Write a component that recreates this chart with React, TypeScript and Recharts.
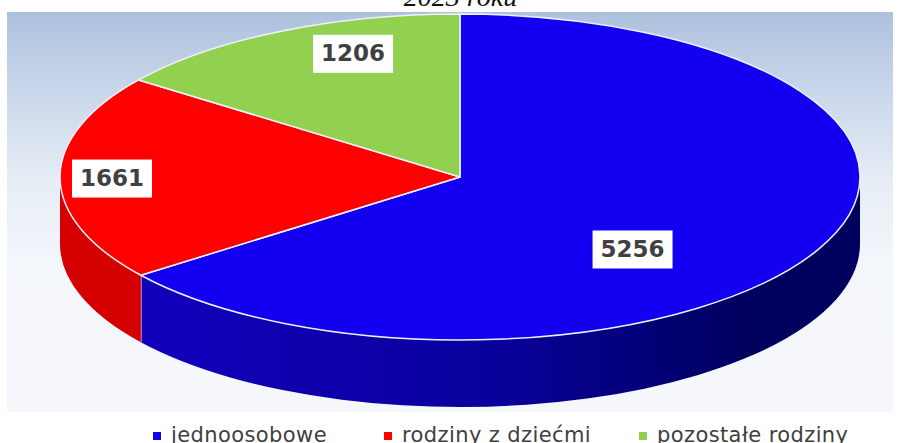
import { PieChart, Pie, Legend } from 'recharts';

const categories = ['jednoosobowe', 'rodziny z dziećmi', 'pozostałe rodziny'];
const householdValues = [5256, 1661, 1206];
const topColors = ['#1300f0', '#ff0000', '#92d050'];
const wallStops = [
  ['#1200bc', '#09009a', '#00005e'],
  ['#d50000', '#d50000', '#d50000'],
  ['#6f9e3d', '#6f9e3d', '#6f9e3d'],
];
// przesunięcia etykiet względem punktu na 3/4 promienia
const labelNudges = [
  [-96, 18],
  [-48, 1],
  [28, -14],
];
const legendItemWidths = [231, 255, 230];

const rows = categories.map((name, i) => ({
  name,
  value: householdValues[i],
  fill: topColors[i],
  wall: wallStops[i],
}));

const SQUASH = 163 / 400; // spłaszczenie elipsy
const DEPTH = 67; // wysokość ściany

const point = (cx: number, cy: number, r: number, deg: number) => {
  const a = (deg * Math.PI) / 180;
  return [cx + r * Math.cos(a), cy - r * SQUASH * Math.sin(a)];
};

function Slice3D(props: any) {
  const { cx, cy, outerRadius: r, startAngle, endAngle, fill, payload, index } = props;
  const ry = r * SQUASH;
  const [sx, sy] = point(cx, cy, r, startAngle);
  const [ex, ey] = point(cx, cy, r, endAngle);
  const large = Math.abs(startAngle - endAngle) > 180 ? 1 : 0;
  const top = `M${cx},${cy} L${sx},${sy} A${r},${ry} 0 ${large} 1 ${ex},${ey} Z`;

  // ściana widoczna tylko w dolnej połowie elipsy
  const hi = Math.min(startAngle, 0);
  const lo = Math.max(endAngle, -180);
  const hasWall = hi > lo;
  const [hx, hy] = point(cx, cy, r, hi);
  const [lx, ly] = point(cx, cy, r, lo);
  const wall = `M${hx},${hy} A${r},${ry} 0 0 1 ${lx},${ly} L${lx},${ly + DEPTH} A${r},${ry} 0 0 0 ${hx},${hy + DEPTH} Z`;
  const gradId = `wall-${index}`;
  const stops = payload?.wall ?? props.wall;

  return (
    <g>
      {hasWall && (
        <>
          <defs>
            <linearGradient id={gradId} x1="0" y1="0" x2="1" y2="0">
              <stop offset="0%" stopColor={stops[0]} />
              <stop offset="50%" stopColor={stops[1]} />
              <stop offset="85%" stopColor={stops[2]} />
            </linearGradient>
          </defs>
          <path d={wall} fill={`url(#${gradId})`} stroke="none" />
          {lo > -180 && (
            <line x1={lx} y1={ly} x2={lx} y2={ly + DEPTH} stroke="#f3c4dc" strokeWidth={1.5} />
          )}
        </>
      )}
      <path d={top} fill={fill} stroke="#eef2f8" strokeWidth={1.5} strokeLinejoin="round" />
    </g>
  );
}

function ValueLabel(props: any) {
  const { cx, cy, outerRadius: r, midAngle, value, index } = props;
  const [bx, by] = point(cx, cy, r * 0.75, midAngle);
  const [dx, dy] = labelNudges[index];
  const x = bx + dx;
  const y = by + dy;
  return (
    <g>
      <rect x={x - 40} y={y - 19} width={80} height={38} fill="#ffffff" />
      <text
        x={x}
        y={y + 1}
        textAnchor="middle"
        dominantBaseline="middle"
        fontFamily="'DejaVu Sans', sans-serif"
        fontWeight={700}
        fontSize={23}
        fill="#404040"
      >
        {value}
      </text>
    </g>
  );
}

function LegendRow({ payload }: any) {
  return (
    <div style={{ display: 'flex', alignItems: 'center', paddingLeft: 153, height: 24 }}>
      {(payload ?? []).map((item: any, i: number) => (
        <div key={item.value} style={{ display: 'flex', alignItems: 'center', gap: 10, width: legendItemWidths[i], flex: 'none' }}>
          <span style={{ width: 8, height: 8, backgroundColor: item.color, display: 'block', marginTop: 2 }} />
          <span style={{ fontFamily: "'DejaVu Sans', sans-serif", fontSize: 21, letterSpacing: 0.4, color: '#404040', whiteSpace: 'nowrap' }}>
            {item.value}
          </span>
        </div>
      ))}
    </div>
  );
}

export default function App() {
  return (
    <div style={{ position: 'absolute', left: 0, top: 0, width: 901, height: 443, overflow: 'hidden', background: '#ffffff' }}>
      <div
        style={{
          position: 'absolute',
          left: 7,
          top: 12,
          width: 886,
          height: 400,
          background: 'linear-gradient(180deg, #adc1de 0%, #c9d7ea 20%, #e6edf5 42%, #f3f6fb 62%, #f5f7fb 100%)',
        }}
      />
      <div
        style={{
          position: 'absolute',
          left: 0,
          width: 921,
          top: -19,
          textAlign: 'center',
          fontFamily: "'Liberation Serif', serif",
          fontStyle: 'italic',
          fontSize: 28,
          color: '#111111',
        }}
      >
        2023 roku
      </div>
      <div style={{ position: 'absolute', left: 0, top: 0 }}>
        <PieChart width={901} height={443} margin={{ top: 0, right: 0, bottom: 0, left: 0 }}>
          <Pie
            data={rows}
            dataKey="value"
            nameKey="name"
            cx={460}
            cy={177}
            innerRadius={0}
            outerRadius={400}
            startAngle={90}
            endAngle={-270}
            paddingAngle={0}
            shape={Slice3D}
            label={ValueLabel}
            labelLine={false}
            isAnimationActive={false}
          />
          <Legend content={LegendRow} itemSorter={null} wrapperStyle={{ left: 0, top: 423, width: 901 }} />
        </PieChart>
      </div>
    </div>
  );
}
